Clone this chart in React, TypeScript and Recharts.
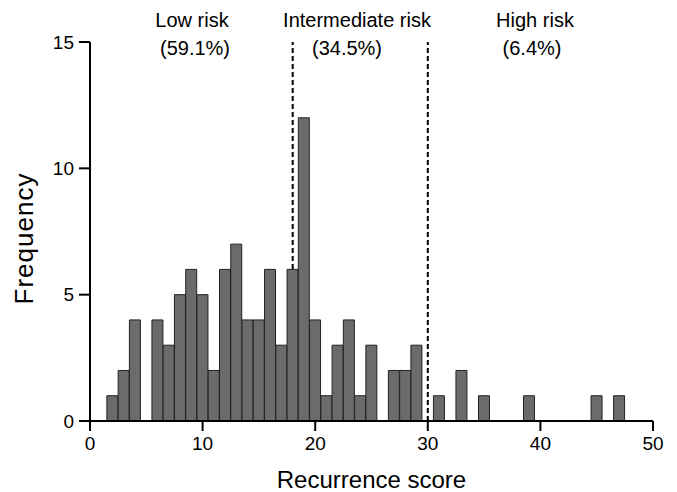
import { BarChart, Bar, XAxis, YAxis, ReferenceLine } from 'recharts'

// recurrence score bins (width 1) and how many patients fell in each
const scores = [
  2, 3, 4, 5, 6, 7, 8, 9, 10, 11, 12, 13, 14, 15, 16, 17, 18, 19, 20, 21, 22, 23, 24,
  25, 26, 27, 28, 29, 30, 31, 32, 33, 34, 35, 36, 37, 38, 39, 40, 41, 42, 43, 44, 45, 46, 47,
]
const counts = [
  1, 2, 4, 0, 4, 3, 5, 6, 5, 2, 6, 7, 4, 4, 6, 3, 6, 12, 4, 1, 3, 4, 1,
  3, 0, 2, 2, 3, 0, 1, 0, 2, 0, 1, 0, 0, 0, 1, 0, 0, 0, 0, 0, 1, 0, 1,
]

const xTicks = [0, 10, 20, 30, 40, 50]
const yTicks = [0, 5, 10, 15]
const cutoffs = [18, 30]

const riskGroups = ['Low risk', 'Intermediate risk', 'High risk']
const riskShares = ['(59.1%)', '(34.5%)', '(6.4%)']

const data = scores.map((s, i) => ({ score: s, count: counts[i] }))

const FONT = '"Liberation Sans", Arial, Helvetica, sans-serif'

// where the group captions sit above the plot
const groupX = [192, 357, 535]
const shareX = [195, 347, 532]

function FreqLabel({ viewBox }: any) {
  const cx = 33
  const cy = viewBox.y + viewBox.height / 2 + 7
  return (
    <text x={cx} y={cy} transform={`rotate(-90, ${cx}, ${cy})`} textAnchor="middle"
      fontSize={26} letterSpacing={1} fill="#000" fontFamily={FONT}>
      Frequency
    </text>
  )
}

export default function App() {
  return (
    <div style={{ position: 'absolute', left: 0, top: 0, width: 677, height: 492, background: '#fff' }}>
      <BarChart
        width={677}
        height={492}
        data={data}
        margin={{ top: 42, right: 24, bottom: 0, left: 0 }}
        barCategoryGap={0}
        barGap={0}
      >
        <XAxis
          dataKey="score"
          type="number"
          domain={[0, 50]}
          ticks={xTicks}
          height={71}
          stroke="#000"
          strokeWidth={2}
          tickSize={10}
          tickMargin={6}
          tick={{ fontSize: 19, fill: '#000', fontFamily: FONT }}
          tickLine={{ stroke: '#000', strokeWidth: 2 }}
          label={{ value: 'Recurrence score', position: 'insideBottom', offset: 4, fontSize: 24, fill: '#000', fontFamily: FONT }}
        />
        <YAxis
          domain={[0, 15]}
          ticks={yTicks}
          width={90}
          stroke="#000"
          strokeWidth={2}
          tickSize={11}
          tickMargin={5}
          tick={{ fontSize: 19, fill: '#000', fontFamily: FONT }}
          tickLine={{ stroke: '#000', strokeWidth: 2 }}
          label={<FreqLabel />}
        />
        {cutoffs.map(c => (
          <ReferenceLine key={c} x={c} stroke="#000" strokeWidth={2} strokeDasharray="5 3" zIndex={0} />
        ))}
        <Bar
          dataKey="count"
          fill="#6b6b6b"
          stroke="#222"
          strokeWidth={1}
          isAnimationActive={false}
        />
      </BarChart>
      <svg width={677} height={70} style={{ position: 'absolute', left: 0, top: 0 }}>
        {riskGroups.map((g, i) => (
          <text key={g} x={groupX[i]} y={27} textAnchor="middle" fontSize={20} fill="#000" fontFamily={FONT}>
            {g}
          </text>
        ))}
        {riskShares.map((s, i) => (
          <text key={s} x={shareX[i]} y={55} textAnchor="middle" fontSize={20} fill="#000" fontFamily={FONT}>
            {s}
          </text>
        ))}
      </svg>
    </div>
  )
}
